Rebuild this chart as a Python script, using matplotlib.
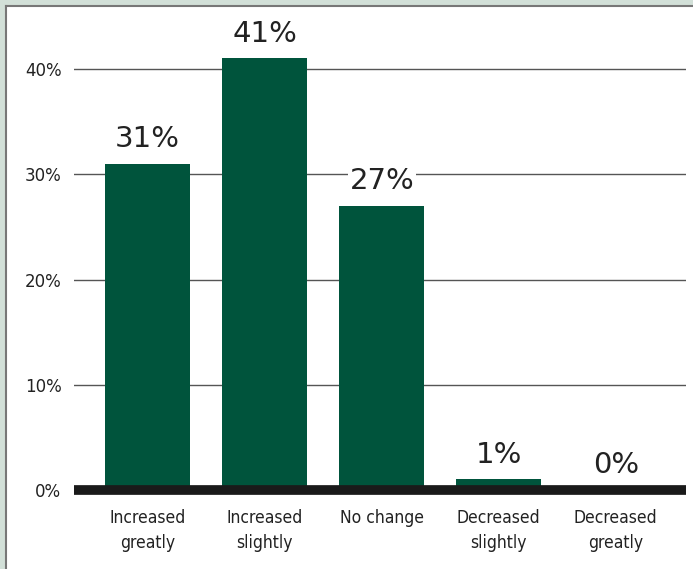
import matplotlib.pyplot as plt
from matplotlib.patches import Rectangle
from matplotlib.lines import Line2D

categories = ['Increased\ngreatly', 'Increased\nslightly', 'No change',
              'Decreased\nslightly', 'Decreased\ngreatly']
values = [31, 41, 27, 1, 0]
yticks = [0, 10, 20, 30, 40]
ytick_labels = ['0%', '10%', '20%', '30%', '40%']

green = '#00543c'
frame = '#d2e0d8'
num_font = ['DejaVu Sans']
cat_font = ['DejaVu Sans']

fig = plt.figure(figsize=(6.93, 5.69), dpi=100, facecolor=frame)
W, H = 693, 569
# white panel with a thin grey edge on the top and left
fig.patches.append(Rectangle((6 / W, 0), 1, 1 - 6 / H, transform=fig.transFigure,
                             facecolor='white', edgecolor='none', zorder=-10))
fig.lines.append(Line2D([6 / W, 6 / W], [0, 1 - 6 / H], transform=fig.transFigure,
                        color='#777777', lw=1.5, zorder=-9))
fig.lines.append(Line2D([6 / W, 1], [1 - 6 / H, 1 - 6 / H], transform=fig.transFigure,
                        color='#777777', lw=1.5, zorder=-9))

ax = fig.add_axes([74 / W, 79 / H, 612 / W, 473.6 / H])
ax.set_zorder(1)
ax.set_facecolor('none')
x = list(range(len(categories)))
ax.set_xlim(-0.63, 4.60)
ax.set_ylim(0, 45)

for t in yticks[1:]:
    ax.axhline(t, color='#555555', lw=1, zorder=1)

ax.bar(x, values, width=0.73, color=green, zorder=2)
ax.axhline(0, color='#1a1a1a', lw=7, zorder=3, clip_on=False,
           solid_capstyle='butt')

for xi, v in zip(x, values):
    ax.text(xi, v + 1.0, f'{v}%', ha='center', va='bottom', fontsize=21,
            family=num_font, color='#222222', zorder=4,
            bbox=dict(facecolor='white', edgecolor='none', pad=1))

ax.set_yticks(yticks)
ax.set_yticklabels(ytick_labels, family=num_font, fontsize=12, color='#222222')
ax.set_xticks(x)
ax.set_xticklabels(categories, family=cat_font, fontstretch='condensed',
                   fontsize=12.5, color='#222222', linespacing=1.45)
ax.tick_params(axis='both', length=0)
ax.tick_params(axis='y', pad=9)
ax.tick_params(axis='x', pad=14)
for s in ax.spines.values():
    s.set_visible(False)

fig.savefig('out.png', dpi=100, facecolor=fig.get_facecolor())
